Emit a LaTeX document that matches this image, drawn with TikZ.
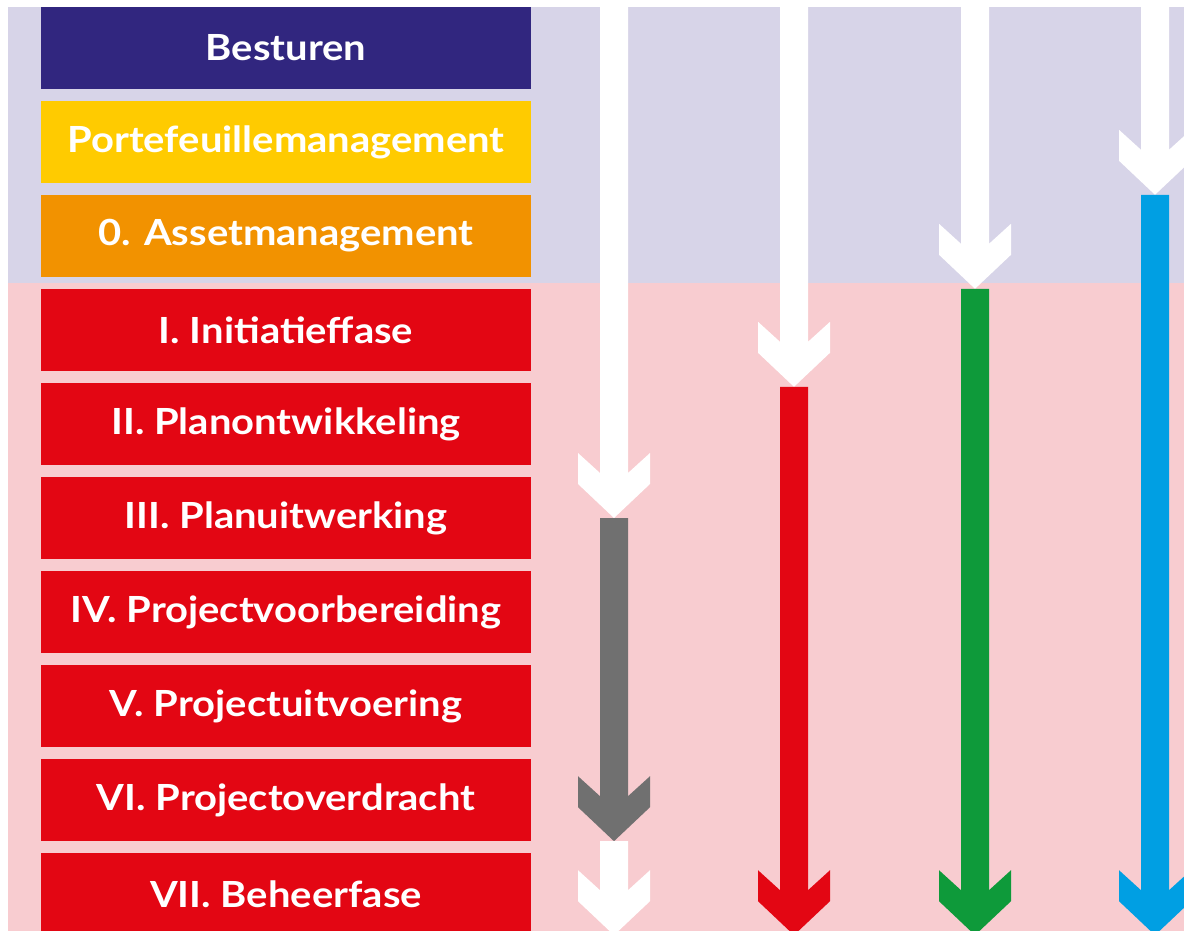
\documentclass[tikz,border=0pt]{standalone}
\usepackage{fontspec}
\setmainfont{Lato}[FakeStretch=1.11]
\usepackage{tikz}
\usetikzlibrary{calc}

\definecolor{lavendel}{RGB}{215,212,232}
\definecolor{roze}{RGB}{248,204,208}
\definecolor{navy}{RGB}{49,38,127}
\definecolor{geel}{RGB}{255,203,0}
\definecolor{oranje}{RGB}{242,146,0}
\definecolor{rood}{RGB}{227,6,19}
\definecolor{grijs}{RGB}{112,112,112}
\definecolor{groen}{RGB}{14,154,58}
\definecolor{blauw}{RGB}{0,159,227}

\tikzset{
  fase/.style={fill=rood, text=white, minimum width=490pt, minimum height=82pt,
    inner sep=0pt, font=\fontsize{36}{40}\selectfont\bfseries}
}

% vertical block arrow: colour, from, to
\newcommand{\pijl}[3]{%
  \fill[#1] let \p1=(#2), \p2=(#3) in
    (\x1-14pt,\y1) -- (\x1+14pt,\y1) -- (\x1+14pt,\y2+45pt) -- (\x1+36pt,\y2+65pt)
    -- (\x1+36pt,\y2+34pt) -- (\x1,\y2) -- (\x1-36pt,\y2+34pt) -- (\x1-36pt,\y2+65pt)
    -- (\x1-14pt,\y2+45pt) -- cycle;}

\begin{document}
\begin{tikzpicture}[x=1pt,y=-1pt,node distance=94pt]
        \useasboundingbox (0,0) rectangle (1184,931);
        \clip (0,0) rectangle (1184,931);

        % achtergrond
        \fill[lavendel] (8,7) rectangle (1184,283);
        \fill[roze] (8,283) rectangle (1184,940);

        % fasen
        \node[fase, fill=navy] (besturen) at (286,48) {Besturen};
        \node[fase, fill=geel] (portefeuille) [below of = besturen] {Portefeuillemanagement};
        \node[fase, fill=oranje] (asset) [below of = portefeuille] {0. Assetmanagement};
        \node[fase] (fase1) [below of = asset] {I. Initiatieffase};
        \node[fase] (fase2) [below of = fase1] {II. Planontwikkeling};
        \node[fase] (fase3) [below of = fase2] {III. Planuitwerking};
        \node[fase] (fase4) [below of = fase3] {IV. Projectvoorbereiding};
        \node[fase] (fase5) [below of = fase4] {V. Projectuitvoering};
        \node[fase] (fase6) [below of = fase5] {VI. Projectoverdracht};
        \node[fase] (fase7) [below of = fase6] {VII. Beheerfase};

        % kolommen
        \coordinate (k1) at (614,0);
        \coordinate (k2) at (794,0);
        \coordinate (k3) at (975,0);
        \coordinate (k4) at (1155,0);

        \pijl{white}{k1}{k1 |- fase3.center}
        \pijl{grijs}{k1 |- fase3.center}{k1 |- fase6.south}
        \pijl{white}{k1 |- fase6.south}{k1 |- fase7.south}

        \pijl{white}{k2}{$(k2 |- fase2.north)+(0,4)$}
        \pijl{rood}{$(k2 |- fase2.north)+(0,4)$}{k2 |- fase7.south}

        \pijl{white}{k3}{k3 |- fase1.north}
        \pijl{groen}{k3 |- fase1.north}{k3 |- fase7.south}

        \pijl{white}{k4}{k4 |- asset.north}
        \pijl{blauw}{k4 |- asset.north}{k4 |- fase7.south}
      \end{tikzpicture}
\end{document}
